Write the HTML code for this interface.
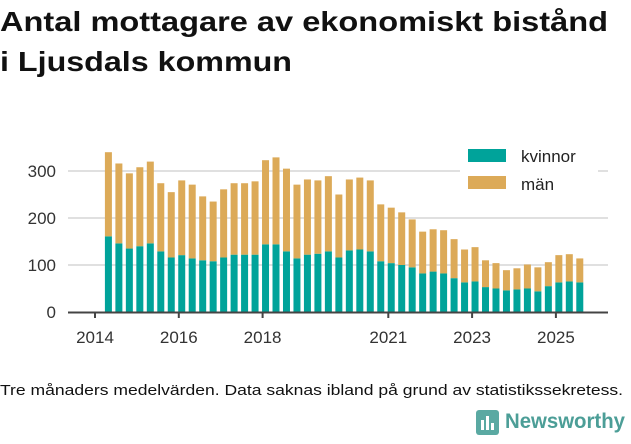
<!DOCTYPE html>
<html><head><meta charset="utf-8"><style>
body{margin:0;background:#fff;width:631px;height:439px;overflow:hidden;font-family:"Liberation Sans",sans-serif}
</style></head><body>
<svg width="631" height="439" xmlns="http://www.w3.org/2000/svg">
<g font-family="Liberation Sans, sans-serif" font-weight="bold" font-size="28" fill="#111">
<text x="0" y="31" textLength="608" lengthAdjust="spacingAndGlyphs">Antal mottagare av ekonomiskt bistånd</text>
<text x="0" y="71" textLength="292" lengthAdjust="spacingAndGlyphs">i Ljusdals kommun</text>
</g>
<g id="grid"></g>
<g id="bars"></g>
<g id="axes"></g>
<g>
<rect x="460" y="140" width="138" height="56" fill="#fff"/>
<rect x="468" y="149" width="38" height="13" fill="#00a39a"/>
<text x="521" y="162" font-size="17" fill="#222">kvinnor</text>
<rect x="468" y="176" width="38" height="13" fill="#dcaa58"/>
<text x="521" y="190" font-size="17" fill="#222">män</text>
</g>
<text x="0" y="395" font-size="15" fill="#111" textLength="623" lengthAdjust="spacingAndGlyphs">Tre månaders medelvärden. Data saknas ibland på grund av statistikssekretess.</text>
<g>
<rect x="476" y="410" width="23" height="25" rx="3" fill="#5aa9a2"/>
<rect x="481" y="420" width="3" height="10" fill="#fff"/><rect x="486" y="416" width="3" height="14" fill="#fff"/><rect x="491" y="423" width="3" height="7" fill="#fff"/>
<text x="505" y="428" font-size="21" font-weight="bold" fill="#4c9e97" textLength="120" lengthAdjust="spacingAndGlyphs">Newsworthy</text>
</g>
</svg>
<script>
const quarters=["2014Q2","2014Q3","2014Q4","2015Q1","2015Q2","2015Q3","2015Q4","2016Q1","2016Q2","2016Q3","2016Q4","2017Q1","2017Q2","2017Q3","2017Q4","2018Q1","2018Q2","2018Q3","2018Q4","2019Q1","2019Q2","2019Q3","2019Q4","2020Q1","2020Q2","2020Q3","2020Q4","2021Q1","2021Q2","2021Q3","2021Q4","2022Q1","2022Q2","2022Q3","2022Q4","2023Q1","2023Q2","2023Q3","2023Q4","2024Q1","2024Q2","2024Q3","2024Q4","2025Q1","2025Q2","2025Q3"];
const kvinnor=[161,146,135,140,146,129,116,121,114,110,108,116,122,122,122,144,144,129,114,122,124,129,116,131,133,129,108,104,100,95,82,86,82,72,63,65,53,50,46,48,50,44,55,63,65,63];
const totals=[340,316,295,308,320,274,255,280,271,246,235,261,274,274,278,323,329,305,271,282,280,289,250,282,286,280,229,222,212,197,171,176,174,155,133,138,110,104,89,93,101,95,106,121,123,114];
const yTicks=[0,100,200,300];
const xTicks=[2014,2016,2018,2021,2023,2025];
const NS="http://www.w3.org/2000/svg";
const y0=312, pxPerUnit=0.47;
function yS(v){return y0-v*pxPerUnit;}
function xS(yr){return 95+(yr-2014)*41.9;}
function qYear(q){return +q.slice(0,4)+(+q.slice(5)-1)/4+0.07;}
function mk(tag,attrs,parent){const e=document.createElementNS(NS,tag);for(const k in attrs)e.setAttribute(k,attrs[k]);parent.appendChild(e);return e;}
const grid=document.getElementById('grid'),bars=document.getElementById('bars'),axes=document.getElementById('axes');
yTicks.forEach(t=>{
  if(t>0){const l=mk('line',{x1:68,x2:608,y1:yS(t),y2:yS(t),stroke:'#e0e0e0','stroke-width':2},grid);
  
  }
  const tx=mk('text',{x:56,y:yS(t)+6,'text-anchor':'end','font-size':17,fill:'#333'},axes);tx.textContent=t;
  
  
});
quarters.forEach((q,i)=>{
  const cx=xS(qYear(q)),w=7;
  const m=totals[i]-kvinnor[i];
  const r1=mk('rect',{x:cx-w/2,y:yS(kvinnor[i]),width:w,height:kvinnor[i]*pxPerUnit,fill:'#00a39a'},bars);
  
  
  const r2=mk('rect',{x:cx-w/2,y:yS(totals[i]),width:w,height:m*pxPerUnit,fill:'#dcaa58'},bars);
  
  
});
const ax=mk('line',{x1:68,x2:608,y1:y0+0.5,y2:y0+0.5,stroke:'#444','stroke-width':2},axes);


xTicks.forEach(t=>{
  const x=xS(t);
  const tk=mk('line',{x1:x,x2:x,y1:y0,y2:y0+6,stroke:'#444','stroke-width':2},axes);
  
  
  const tx=mk('text',{x:x,y:y0+31,'text-anchor':'middle','font-size':17,fill:'#333'},axes);tx.textContent=t;
  
  
});
</script>
</body></html>
